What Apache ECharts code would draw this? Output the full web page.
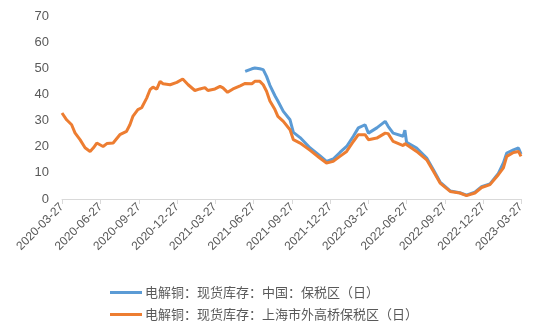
<!DOCTYPE html>
<html>
<head>
<meta charset="utf-8">
<script src="https://cdn.jsdelivr.net/npm/echarts@6/dist/echarts.min.js"></script>
<style>
  html, body { margin: 0; padding: 0; background: #fff; }
  #chart { width: 550px; height: 330px; }
</style>
</head>
<body>
<div id="chart"></div>
<script>
// Observation dates (daily series, sampled)
const dates = [
  '2020-03-27','2020-04-07','2020-04-19','2020-04-27','2020-05-09','2020-05-21','2020-06-02','2020-06-10',
  '2020-06-18','2020-07-03','2020-07-12','2020-07-27','2020-08-12','2020-08-28','2020-09-05','2020-09-12',
  '2020-09-24','2020-10-03','2020-10-15','2020-10-23','2020-10-30','2020-11-08','2020-11-16','2020-11-23',
  '2020-12-10','2020-12-26','2021-01-09','2021-01-22','2021-02-07','2021-02-19','2021-03-03','2021-03-10',
  '2021-03-27','2021-04-08','2021-04-15','2021-04-26','2021-05-09','2021-05-26','2021-06-07','2021-06-11',
  '2021-06-23','2021-06-30','2021-07-12','2021-07-20','2021-07-28','2021-08-05','2021-08-17','2021-08-24',
  '2021-09-06','2021-09-22','2021-09-30','2021-10-16','2021-11-09','2021-12-02','2021-12-18','2022-01-03',
  '2022-01-19','2022-02-04','2022-02-20','2022-03-04','2022-03-20','2022-03-28','2022-04-17','2022-05-07',
  '2022-05-14','2022-05-26','2022-06-19','2022-06-23','2022-06-27','2022-07-21','2022-08-14','2022-08-30',
  '2022-09-15','2022-10-09','2022-11-01','2022-11-17','2022-12-07','2022-12-23','2023-01-12','2023-02-01',
  '2023-02-13','2023-02-21','2023-03-09','2023-03-21','2023-03-27'
];

// 电解铜：现货库存：中国：保税区（日） — reported from 2021-06-07 (index 38)
const bondedStart = 38;
const bondedChina = [
  48.8, 49.2, 49.8, 50.1, 49.8, 49.5, 46.9, 43.5, 39.5, 37.5,
  33.5, 30.3, 25.5, 23.5, 19.5, 16.6, 14.4, 15.3, 17.8, 20.1,
  24.0, 27.2, 28.4, 25.2, 27.2, 29.7, 27.8, 25.2, 24.0, 26.3,
  21.7, 19.5, 15.7, 11.2, 6.5, 3.1, 2.4, 1.5, 2.6, 4.7,
  5.8, 9.8, 13.8, 17.6, 18.8, 19.5, 17.2
];

// 电解铜：现货库存：上海市外高桥保税区（日）
const waigaoqiao = [
  32.9, 30.3, 28.4, 25.3, 22.7, 19.6, 18.2, 19.6, 21.4, 20.1,
  21.2, 21.4, 24.6, 25.9, 28.4, 31.6, 34.2, 34.9, 38.6, 41.8,
  42.8, 42.0, 45.0, 44.1, 43.7, 44.6, 45.9, 43.7, 41.5, 42.1,
  42.6, 41.5, 42.1, 43.1, 42.5, 40.8, 42.1, 43.3, 44.2, 44.6,
  44.1, 45.0, 45.0, 43.7, 41.2, 37.5, 34.2, 31.6, 29.7, 26.5,
  22.7, 21.4, 18.6, 15.7, 13.8, 14.4, 16.3, 18.2, 22.0, 24.6,
  24.6, 22.7, 23.3, 25.2, 25.0, 22.0, 20.4, 21.2, 20.6, 18.2,
  15.0, 10.6, 6.1, 2.9, 2.3, 1.3, 2.3, 4.4, 5.5, 9.3,
  11.9, 16.3, 17.8, 18.2, 16.3
];

// Quarterly tick dates
const tickDates = [
  '2020-03-27','2020-06-27','2020-09-27','2020-12-27','2021-03-27','2021-06-27','2021-09-27',
  '2021-12-27','2022-03-27','2022-06-27','2022-09-27','2022-12-27','2023-03-27'
];

const seriesNames = ['电解铜：现货库存：中国：保税区（日）', '电解铜：现货库存：上海市外高桥保税区（日）'];

// Dates are placed on a linear day-count axis measured from the first tick date
const DAY = 86400000;
function utc(s) {
  const p = s.split('-').map(Number);
  return Date.UTC(p[0], p[1] - 1, p[2]);
}
const origin = utc(tickDates[0]);
function dayIndex(s) { return Math.round((utc(s) - origin) / DAY); }
function pad(n) { return n < 10 ? '0' + n : '' + n; }
function dayLabel(d) {
  const t = new Date(origin + d * DAY);
  return t.getUTCFullYear() + '-' + pad(t.getUTCMonth() + 1) + '-' + pad(t.getUTCDate());
}

const ticks = tickDates.map(dayIndex);
const bondedData = bondedChina.map((v, i) => [dayIndex(dates[bondedStart + i]), v]);
const wgqData = waigaoqiao.map((v, i) => [dayIndex(dates[i]), v]);

const chart = echarts.init(document.getElementById('chart'), null, { renderer: 'canvas' });
chart.setOption({
  animation: false,
  backgroundColor: '#ffffff',
  textStyle: { fontFamily: '"Liberation Sans", "Noto Sans CJK SC", sans-serif' },
  grid: { left: 62, right: 29, top: 16, bottom: 131, containLabel: false },
  legend: {
    orient: 'vertical',
    left: 105,
    top: 281,
    itemGap: 9,
    itemWidth: 32,
    itemHeight: 3,
    icon: 'rect',
    textStyle: { fontFamily: '"Noto Sans CJK SC", sans-serif', fontSize: 13, color: '#595959', padding: [0, 0, 0, -2] },
    data: seriesNames
  },
  xAxis: {
    type: 'value',
    min: ticks[0],
    max: ticks[ticks.length - 1],
    axisLine: { show: true, onZero: false, lineStyle: { color: '#d9d9d9', width: 1 } },
    axisTick: { show: true, customValues: ticks, length: 5, lineStyle: { color: '#d9d9d9' } },
    axisLabel: {
      customValues: ticks,
      rotate: 45,
      fontSize: 12,
      color: '#595959',
      margin: 6,
      formatter: v => dayLabel(v)
    },
    splitLine: { show: false }
  },
  yAxis: {
    type: 'value',
    min: 0,
    max: 70,
    interval: 10,
    axisLine: { show: false },
    axisTick: { show: false },
    splitLine: { show: false },
    axisLabel: { fontSize: 13, color: '#595959', margin: 13 }
  },
  series: [
    {
      name: seriesNames[0],
      type: 'line',
      data: bondedData,
      showSymbol: false,
      symbol: 'none',
      color: '#5B9BD5',
      lineStyle: { width: 3, color: '#5B9BD5' }
    },
    {
      name: seriesNames[1],
      type: 'line',
      data: wgqData,
      showSymbol: false,
      symbol: 'none',
      color: '#ED7D31',
      lineStyle: { width: 3, color: '#ED7D31' }
    }
  ]
});
</script>
</body>
</html>
